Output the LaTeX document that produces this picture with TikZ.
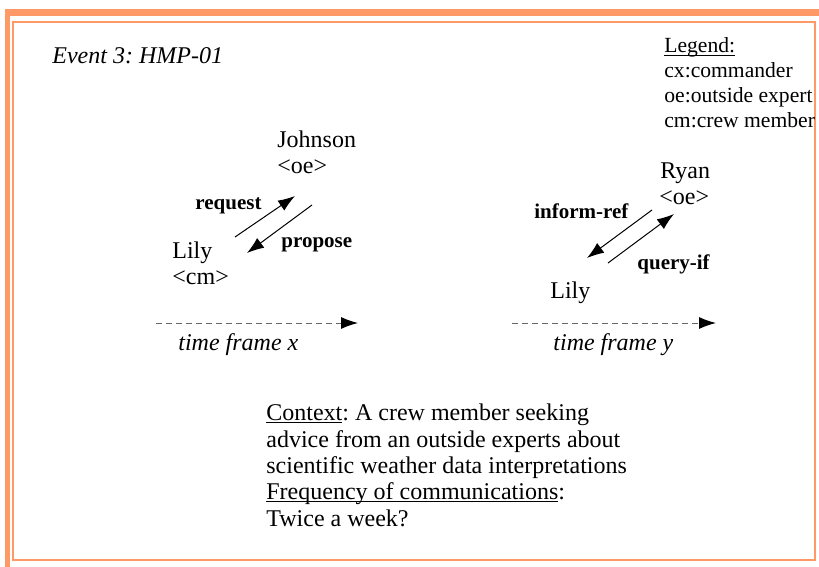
\documentclass[tikz,border=0pt]{standalone}
\usepackage{fontspec}
\setmainfont{Liberation Serif}
\usetikzlibrary{arrows.meta}
\definecolor{frameorange}{RGB}{255,153,102}
\newcommand\undl[1]{\setbox0\hbox{#1}\rlap{\rule[-1.4pt]{\wd0}{0.5pt}}\box0}
\frenchspacing
\tikzset{
  txt/.style={anchor=base west,inner sep=0pt,font=\fontsize{12}{14}\selectfont},
  act/.style={anchor=base west,inner sep=0pt,font=\fontsize{10.5}{12}\selectfont\bfseries},
  leg/.style={anchor=base west,inner sep=0pt,font=\fontsize{10.8}{13}\selectfont},
  msg/.style={-{Latex[length=8.5pt,width=6pt]},line width=0.5pt},
  timeline/.style={-{Latex[length=8.5pt,width=6pt,color=black]},dash pattern=on 3pt off 2pt,line width=0.5pt,draw=black!60}
}
\begin{document}
\begin{tikzpicture}[x=0.5pt,y=-0.5pt]
   \useasboundingbox (0,0) rectangle (819,567);
   % frame
   \fill[frameorange] (5,9) rectangle (819,16);
   \fill[frameorange] (5,9) rectangle (10,567);
   \draw[frameorange,line width=0.6pt] (13,22) rectangle (815,560);

   \node[txt,font=\fontsize{12}{14}\selectfont\itshape] (title) at (52,64) {Event 3: HMP-01};

   % legend
   \node[leg] (legend) at (664,53) {\undl{Legend:}};
   \node[leg] (cx) at (664,78) {cx:commander};
   \node[leg] (oe) at (664,103) {oe:outside expert};
   \node[leg] (cm) at (664,127) {cm:crew member};

   % time frame x
   \node[txt] (johnson) at (277,148) {Johnson};
   \node[txt] (johnsonrole) at (277,173) {<oe>};
   \node[txt] (lilyx) at (172,258) {Lily};
   \node[txt] (lilyrole) at (172,284) {<cm>};
   \node[act] (request) at (195,209) {request};
   \node[act] (propose) at (281,247) {propose};
   \coordinate (reqA) at (235,237);
   \coordinate (reqB) at (295,196);
   \coordinate (proA) at (312,205);
   \coordinate (proB) at (247,253);
   \draw[msg] (reqA) -- (reqB);
   \draw[msg] (proA) -- (proB);
   \coordinate (tx0) at (156,323);
   \coordinate (tx1) at (358,323);
   \draw[timeline] (tx0) -- (tx1);
   \node[txt,font=\fontsize{12}{14}\selectfont\itshape] (framex) at (178,350) {time frame x};

   % time frame y
   \node[txt] (ryan) at (660,178) {Ryan};
   \node[txt] (ryanrole) at (659,204) {<oe>};
   \node[txt] (lilyy) at (550,298) {Lily};
   \node[act] (informref) at (534,218) {inform-ref};
   \node[act] (queryif) at (637,269) {query-if};
   \coordinate (infA) at (652,210);
   \coordinate (infB) at (587,258);
   \coordinate (qryA) at (608,263);
   \coordinate (qryB) at (674,214);
   \draw[msg] (infA) -- (infB);
   \draw[msg] (qryA) -- (qryB);
   \coordinate (ty0) at (512,323);
   \coordinate (ty1) at (716,323);
   \draw[timeline] (ty0) -- (ty1);
   \node[txt,font=\fontsize{12}{14}\selectfont\itshape] (framey) at (553,350) {time frame y};

   % context
   \node[txt] (ctx1) at (266,420) {\undl{Context}: A crew member seeking};
   \node[txt] (ctx2) at (266,447) {advice from an outside experts about};
   \node[txt] (ctx3) at (266,473) {scientific weather data interpretations};
   \node[txt] (freq) at (266,499) {\undl{Frequency of communications}:};
   \node[txt] (twice) at (266,526) {Twice a week?};
\end{tikzpicture}
\end{document}
